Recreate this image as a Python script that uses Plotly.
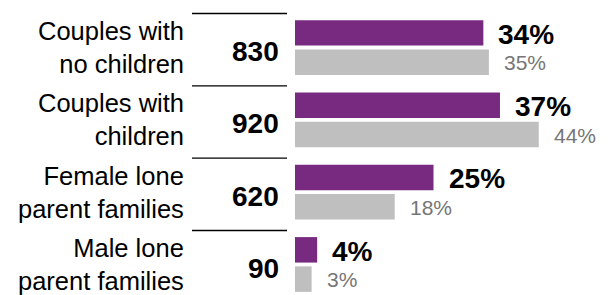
import plotly.graph_objects as go

categories = ["Couples with<br>no children", "Couples with<br>children",
              "Female lone<br>parent families", "Male lone<br>parent families"]
counts = ["830", "920", "620", "90"]
share_area = [34, 37, 25, 4]      # purple series (%)
share_comp = [35, 44, 18, 3]      # grey series (%)

PURPLE = "#782A81"
GREY = "#BFBFBF"
FONT = "Liberation Sans, Arial, sans-serif"

fig = go.Figure()
fig.add_trace(go.Bar(y=categories, x=share_area, orientation="h",
                     marker=dict(color=PURPLE, line=dict(width=0)), hoverinfo="skip"))
fig.add_trace(go.Bar(y=categories, x=share_comp, orientation="h",
                     marker=dict(color=GREY, line=dict(width=0)), hoverinfo="skip"))

annotations = []
for i, cat in enumerate(categories):
    annotations.append(dict(x=186 / 608, xref="paper", y=cat, yref="y",
                            text=cat, xanchor="right", yanchor="middle",
                            align="right", showarrow=False,
                            font=dict(family=FONT, size=25.5, color="#000")))
    annotations.append(dict(x=281 / 608, xref="paper", y=cat, yref="y",
                            text="<b>%s</b>" % counts[i], xanchor="right", yanchor="middle",
                            showarrow=False, yshift=-4,
                            font=dict(family=FONT, size=28, color="#000")))
    annotations.append(dict(x=share_area[i], xref="x", y=i - 0.2, yref="y",
                            text="<b>%d%%</b>" % share_area[i], xanchor="left",
                            yanchor="middle", showarrow=False, xshift=13, yshift=-1,
                            font=dict(family=FONT, size=28, color="#000")))
    annotations.append(dict(x=share_comp[i], xref="x", y=i + 0.2, yref="y",
                            text="%d%%" % share_comp[i], xanchor="left",
                            yanchor="middle", showarrow=False, xshift=13, yshift=-1,
                            font=dict(family=FONT, size=21, color="#767676")))

shapes = []
for i in range(len(categories)):
    shapes.append(dict(type="line", xref="paper", yref="y",
                       x0=192 / 608, x1=287 / 608, y0=i - 0.47, y1=i - 0.47,
                       line=dict(color="#000", width=1.3)))

fig.update_layout(
    width=608, height=295,
    margin=dict(l=0, r=0, t=0, b=0),
    paper_bgcolor="white", plot_bgcolor="white",
    barmode="group", bargap=0.19, bargroupgap=0.13,
    showlegend=False,
    xaxis=dict(domain=[295 / 608, 1], range=[0, 56.5], visible=False, fixedrange=True),
    yaxis=dict(type="category", range=[3.422, -0.657], visible=False, fixedrange=True),
    annotations=annotations, shapes=shapes,
)

fig.write_html("out.html", config={"displayModeBar": False},
               post_script="document.body.style.margin='0';document.body.style.overflow='hidden';")
